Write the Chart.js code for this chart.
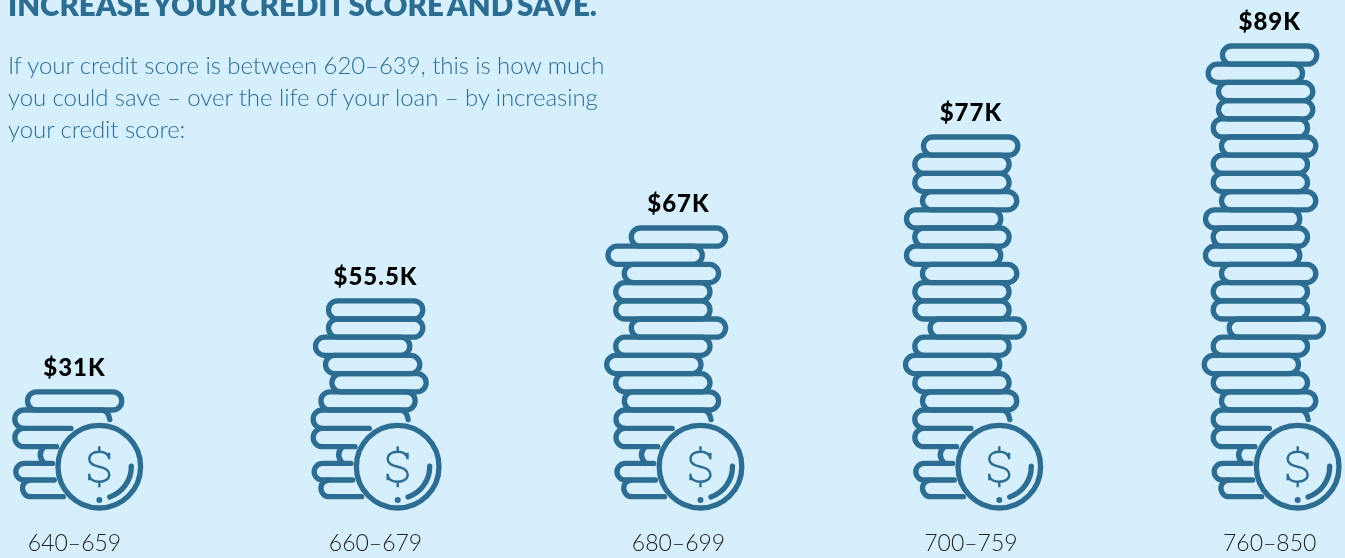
<!DOCTYPE html>
<html>
<head>
<meta charset="utf-8">
<title>Increase your credit score and save</title>
<script src="https://cdn.jsdelivr.net/npm/chart.js@4/dist/chart.umd.js"></script>
<style>
  html, body { margin: 0; padding: 0; background: #d6effd; overflow: hidden; }
  #page { position: relative; width: 1345px; height: 558px; overflow: hidden; }
  #chart { position: absolute; left: 0; top: 0; }
  h1 {
    position: absolute; left: 8px; top: -12px; margin: 0;
    font: 800 29.5px/34px Lato, sans-serif; color: #2d6d92; white-space: nowrap;
    word-spacing: -3px;
  }
  p {
    position: absolute; left: 8px; top: 49px; margin: 0;
    font: 300 24px/32px Lato, sans-serif; color: #2d6d92; white-space: nowrap;
    letter-spacing: -0.07px;
  }
</style>
</head>
<body>
<div id="page">
  <canvas id="chart" width="1345" height="558"></canvas>
  <h1>INCREASE YOUR CREDIT SCORE AND SAVE.</h1>
  <p>If your credit score is between 620–639, this is how much<br>you could save – over the life of your loan – by increasing<br>your credit score:</p>
</div>

<script>
const scoreBands = ["640–659", "660–679", "680–699", "700–759", "760–850"];
const savings = [31, 55.5, 67, 77, 89];
const coinRows = [6, 11, 15, 20, 25];

// the columns are not quite evenly spaced
const columnNudge = [0, 2.2, 6.4, 0, 0];
// where the big coin sits to the right of its column
const bigCoinOffset = [24.8, 22.2, 22, 28.4, 28];
// left edge of each flat coin against the big coin, top of the pile first
const coinLean = [
  [-74.3],
  [-71.7, -71.7, -84.7, -74.7, -68.3, -79.3],
  [-71.7, -95, -78.7, -87.3, -87.3, -71.7, -87.3, -96.3, -87.3, -78.7],
  [-78.3, -87, -87, -79.3, -95.3, -87, -95.3, -79.3, -87, -87, -71.7, -87, -96.3, -87, -79.3],
  [-77.7, -92, -81.7, -81.7, -87, -78.7, -87, -87, -78.7, -94.7, -87, -94.7, -78.7, -87, -87, -71, -87, -96, -87, -78.7]
];

const INK = "#2d6d92";
const ROW = 18.2;
const COIN_W = 94.3;
const LOOSE_ROWS = 5; // rows tucked in behind the big coin

// category axis that lets a column sit slightly off its even slot
class NudgedCategoryScale extends Chart.CategoryScale {
  static id = "nudgedCategory";
  static defaults = {};
  getPixelForValue(value, index) {
    const i = typeof value === "number" ? value : this.parse(value);
    return super.getPixelForValue(value, index) + (columnNudge[i] || 0);
  }
}

// the piles are not to scale, so the value axis goes through coin rows
class CoinRowScale extends Chart.LinearScale {
  static id = "coinRow";
  static defaults = {};
  getPixelForValue(value) {
    let rows = 0;
    let fromV = 0, fromR = 0;
    for (let i = 0; i < savings.length; i++) {
      if (value <= savings[i]) {
        rows = fromR + (coinRows[i] - fromR) * (value - fromV) / (savings[i] - fromV);
        return this.bottom - rows * ROW;
      }
      fromV = savings[i];
      fromR = coinRows[i];
    }
    return this.bottom - fromR * ROW;
  }
}

Chart.register(NudgedCategoryScale, CoinRowScale);

function drawBigCoin(ctx, cx, cy) {
  ctx.beginPath();
  ctx.arc(cx, cy, 41.3, 0, Math.PI * 2);
  ctx.stroke();
  // shine on the lower right
  ctx.beginPath();
  ctx.arc(cx, cy, 32, -0.02, 1.24);
  ctx.stroke();
  ctx.beginPath();
  ctx.arc(cx, cy + 33.3, 3, 0, Math.PI * 2);
  ctx.fillStyle = INK;
  ctx.fill();

  // dollar sign
  ctx.save();
  ctx.translate(cx, cy);
  ctx.lineWidth = 2.4;
  ctx.lineCap = "butt";
  ctx.beginPath();
  ctx.moveTo(9.8, -9);
  ctx.bezierCurveTo(8.5, -13, 4.5, -15, 0, -15);
  ctx.bezierCurveTo(-6, -15, -10, -12, -10, -7.5);
  ctx.bezierCurveTo(-10, -3, -5, -1, 0, 0);
  ctx.bezierCurveTo(5, 1, 10, 3.5, 10, 8);
  ctx.bezierCurveTo(10, 12, 6, 15, 0, 15);
  ctx.bezierCurveTo(-5, 15, -9, 13, -10, 9);
  ctx.moveTo(0, -20.5); ctx.lineTo(0, -15);
  ctx.moveTo(0, 15); ctx.lineTo(0, 20.5);
  ctx.moveTo(9.8, -14); ctx.lineTo(9.8, -7.5);
  ctx.moveTo(-10, 7); ctx.lineTo(-10, 13.5);
  ctx.stroke();
  ctx.restore();
}

// the five half hidden rows around the big coin
function drawLooseRows(ctx, cx, cy) {
  const line = (d) => {
    ctx.beginPath();
    d(ctx);
    ctx.stroke();
  };
  const cap = (c, x, top, bottom) => {
    const r = (bottom - top) / 2;
    c.arc(x + r, top + r, r, -Math.PI / 2, Math.PI / 2, true);
  };
  line((c) => {
    // hook under the pile, then row two's outline
    c.moveTo(cx + 10.5, cy - 47);
    c.quadraticCurveTo(cx + 9, cy - 56.7, cx + 2, cy - 56.7);
    c.lineTo(cx - 75.3, cy - 56.7);
    cap(c, cx - 84.5, cy - 56.7, cy - 38.3);
    c.lineTo(cx - 28.3, cy - 38.3);
  });
  line((c) => {
    c.moveTo(cx - 75.3, cy - 38.3);
    cap(c, cx - 84.5, cy - 38.3, cy - 20);
    c.lineTo(cx - 42.7, cy - 20);
  });
  line((c) => {
    c.moveTo(cx - 55, cy - 20);
    c.quadraticCurveTo(cx - 63, cy - 12, cx - 55, cy - 3.3);
  });
  line((c) => {
    c.moveTo(cx - 46.7, cy - 3.3);
    c.lineTo(cx - 75.2, cy - 3.3);
    cap(c, cx - 83.5, cy - 3.3, cy + 13.3);
    c.lineTo(cx - 45, cy + 13.3);
  });
  line((c) => {
    c.moveTo(cx - 68.5, cy + 13.3);
    cap(c, cx - 76.8, cy + 13.3, cy + 30);
    c.lineTo(cx - 36, cy + 30);
  });
}

const coinPiles = {
  id: "coinPiles",
  afterDatasetsDraw(chart) {
    const ctx = chart.ctx;
    const bars = chart.getDatasetMeta(0).data;
    bars.forEach((bar, i) => {
      const rows = Math.round((bar.base - bar.y) / ROW);
      const flat = rows - LOOSE_ROWS;
      const cx = bar.x + bigCoinOffset[i];
      const cy = bar.base - 30.5;
      const pileBottom = cy - 56.7;

      ctx.save();
      ctx.strokeStyle = INK;
      ctx.lineWidth = 5.3;
      ctx.lineCap = "round";
      for (let k = 0; k < flat; k++) {
        ctx.beginPath();
        ctx.roundRect(cx + coinLean[i][k] + 2.5, pileBottom - (flat - k) * ROW, COIN_W, ROW, ROW / 2);
        ctx.stroke();
      }
      drawLooseRows(ctx, cx, cy);
      drawBigCoin(ctx, cx, cy);
      ctx.restore();

      // savings above the pile
      ctx.save();
      ctx.fillStyle = "#000";
      ctx.font = "900 24px Lato, sans-serif";
      ctx.letterSpacing = "1px";
      ctx.textAlign = "center";
      ctx.textBaseline = "middle";
      ctx.fillText("$" + savings[i] + "K", bar.x, pileBottom - flat * ROW - 24);
      ctx.restore();
    });
  }
};

new Chart(document.getElementById("chart"), {
  type: "bar",
  data: {
    labels: scoreBands,
    datasets: [{
      label: "Savings",
      data: savings,
      backgroundColor: "transparent",
      borderWidth: 0
    }]
  },
  options: {
    responsive: false,
    animation: false,
    layout: {
      autoPadding: false,
      padding: { left: 74.5, right: 75.3, top: 0, bottom: 0 }
    },
    plugins: {
      legend: { display: false },
      title: { display: false },
      tooltip: { enabled: false }
    },
    scales: {
      x: {
        type: "nudgedCategory",
        offset: false,
        grid: { display: false, drawTicks: false },
        border: { display: false },
        // fixed depth under the piles, and no side margins taken for the labels
        afterFit(axis) {
          axis.height = 60.8;
          axis.paddingLeft = 0;
          axis.paddingRight = 0;
        },
        ticks: {
          color: "#222",
          padding: 33,
          maxRotation: 0,
          autoSkip: false,
          font: { family: "Lato, sans-serif", size: 23, weight: 300 }
        }
      },
      y: {
        type: "coinRow",
        display: false,
        min: 0,
        max: 100
      }
    }
  },
  plugins: [coinPiles]
});
</script>
</body>
</html>
